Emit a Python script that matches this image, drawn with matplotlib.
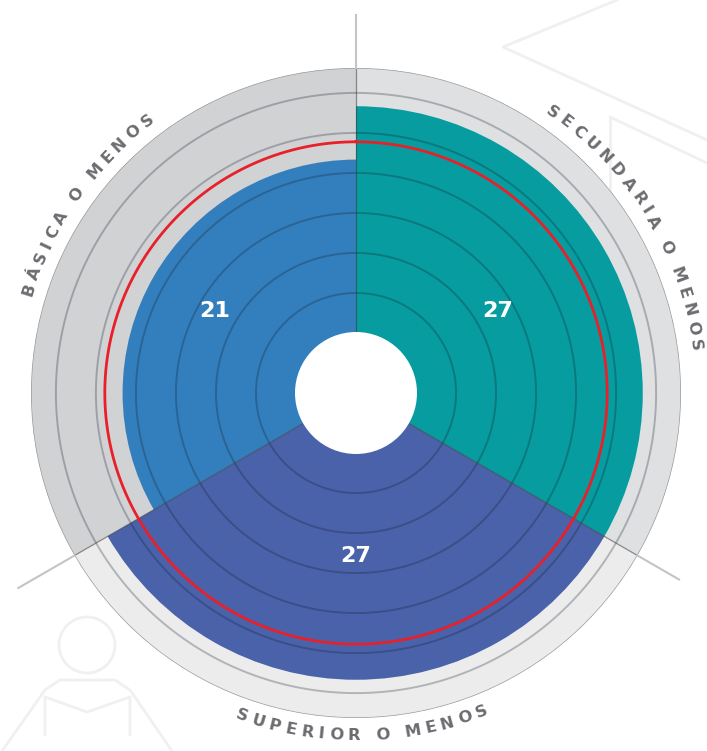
import numpy as np
import matplotlib
matplotlib.use("Agg")
import matplotlib.pyplot as plt
from matplotlib.font_manager import FontProperties
from matplotlib.textpath import text_to_path

# data
categories = ["SECUNDARIA O MENOS", "SUPERIOR O MENOS", "BÁSICA O MENOS"]
values = [27, 27, 21]
bar_colors = ["#079c9f", "#4a62a9", "#337fbd"]
bg_colors = ["#dfe0e2", "#ececec", "#d1d2d4"]
reference_value = 23

# radial scale (value units)
R_MAX = 31.3
R_ORIGIN = -5.25
GRID = [6, 10.5, 15, 19.5, 24, 28.5]
LABEL_R = 13.1
TEXT_R = 33.3
SECTOR = 120.0
EXT_R = [37.3, 36.7, 38.6]   # grey lines running out past the rim

W, H = 707, 751
fig = plt.figure(figsize=(W / 100, H / 100), dpi=100)

# faint watermark shapes behind the chart
bg = fig.add_axes([0, 0, 1, 1], zorder=0)
bg.set_xlim(0, W)
bg.set_ylim(H, 0)
bg.axis("off")
wm = dict(color="#f0f0f0", lw=2, solid_capstyle="round")
bg.plot([617, 503, 707], [0, 47, 140], **wm)
bg.plot([610, 610], [240, 117], **wm)
bg.plot([610, 707], [117, 163], **wm)
bg.add_patch(plt.Circle((87, 645), 28, fill=False, ec="#f0f0f0", lw=2))
bg.plot([2, 45, 60, 115, 130, 172], [751, 690, 680, 680, 690, 751], **wm)
bg.plot([45, 45, 87, 130, 130], [735, 697, 712, 697, 735], **wm)

ax = fig.add_axes([31 / W, 33 / H, 650 / W, 650 / H], projection="polar", zorder=1)
ax.set_theta_zero_location("N")
ax.set_theta_direction(-1)
ax.set_ylim(0, R_MAX)
ax.set_rorigin(R_ORIGIN)
ax.axis("off")

n = len(values)
starts = np.arange(n) * SECTOR
centers = np.deg2rad(starts + SECTOR / 2)
width = np.deg2rad(SECTOR)

ax.bar(centers, R_MAX, width=width, bottom=0, color=bg_colors, lw=0, zorder=1)
ax.bar(centers, values, width=width, bottom=0, color=bar_colors, lw=0, zorder=2)

th = np.linspace(0, 2 * np.pi, 720)
for g in GRID:
    ax.plot(th, np.full_like(th, g), color="#101c2c", alpha=0.27, lw=1.4, zorder=3)
ax.plot(th, np.full_like(th, R_MAX), color="#9a9a9a", lw=1.0, zorder=3)
ax.plot(th, np.full_like(th, reference_value), color="#e8202a", lw=2.0, zorder=5)

# sector borders
for s, ext in zip(starts, EXT_R):
    t = np.deg2rad(s)
    ax.plot([t, t], [0, R_MAX], color="#3a3a3a", alpha=0.55, lw=0.9, zorder=4)
    ax.plot([t, t], [R_MAX, ext], color="#c4c4c4", lw=1.5, zorder=4, clip_on=False)

# centre hole
ax.add_patch(plt.Circle((0.5, 0.5), 61 / 650, transform=ax.transAxes,
                        color="white", lw=0, zorder=6, clip_on=False))

for c, v in zip(centers, values):
    ax.text(c, LABEL_R, str(v), color="white", fontsize=16, fontweight="bold",
            ha="center", va="center", zorder=7)

# curved category labels
fp = FontProperties(family="DejaVu Sans", weight="bold", size=11.8)
px_per_unit = 325 / (R_MAX - R_ORIGIN)
r_px = (TEXT_R - R_ORIGIN) * px_per_unit
tracking = 4.8


def char_width(ch):
    if ch == " ":
        return 0.33 * fp.get_size_in_points() * 100 / 72
    w, _, _ = text_to_path.get_text_width_height_descent(ch, fp, ismath=False)
    return w * 100 / 72


label_angles = [58.5, 179, 305]
for name, mid in zip(categories, label_angles):
    ws = [char_width(ch) for ch in name]
    pos = []
    s = 0
    for w in ws:
        pos.append(s + w / 2)
        s += w + tracking
    span = pos[-1] + pos[0]
    bottom_side = 90 < mid < 270
    for ch, p in zip(name, pos):
        off = np.rad2deg((p - span / 2) / r_px)
        if bottom_side:
            phi = mid - off
            rot = 180 - phi
        else:
            phi = mid + off
            rot = -phi
        ax.text(np.deg2rad(phi), TEXT_R, ch, fontproperties=fp, color="#6b6c70",
                rotation=rot, rotation_mode="anchor", ha="center", va="center",
                clip_on=False, zorder=7)

fig.savefig("out.png", dpi=100)
